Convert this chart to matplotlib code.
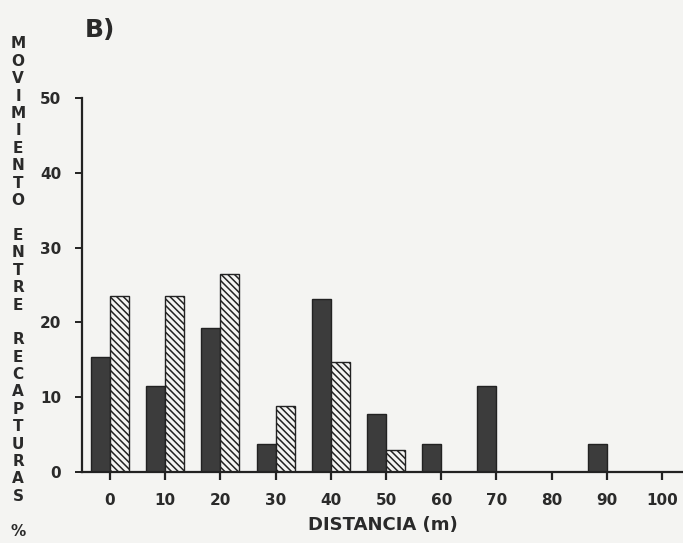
import numpy as np
import matplotlib
matplotlib.use("Agg")
import matplotlib.pyplot as plt

# distance classes (m) and % of movements between recaptures
distancias = [0, 10, 20, 30, 40, 50, 60, 70, 80, 90, 100]
serie_oscura = [15.4, 11.5, 19.2, 3.8, 23.1, 7.7, 3.8, 11.5, 0, 3.8, 0]
serie_rayada = [23.5, 23.5, 26.5, 8.8, 14.7, 2.9, 0, 0, 0, 0, 0]
yticks = [0, 10, 20, 30, 40, 50]
ylabel_txt = "MOVIMIENTO ENTRE RECAPTURAS %"

txt_color = "#2a2a2a"
bg = "#f4f4f2"

plt.rcParams["font.family"] = "DejaVu Sans"
plt.rcParams["hatch.linewidth"] = 1.1
plt.rcParams["hatch.color"] = "#2a2a2a"

fig = plt.figure(figsize=(6.83, 5.43), dpi=100, facecolor=bg)
ax = fig.add_axes([82 / 683, 71 / 543, 601 / 683, 374 / 543], facecolor=bg)

x = np.array(distancias, dtype=float)
w = 3.45
ax.bar(x - w / 2, serie_oscura, width=w, color="#3c3c3c", edgecolor="#222222", linewidth=1.0)
ax.bar(x + w / 2, serie_rayada, width=w, color=bg, edgecolor="#222222", linewidth=1.0,
       hatch="\\\\\\\\\\")

ax.set_xlim(-5.07, 103.8)
ax.set_ylim(0, 50)
ax.set_xticks(distancias)
ax.set_yticks(yticks)
ax.set_xticklabels([str(d) for d in distancias], fontsize=11, fontweight="heavy", color=txt_color)
ax.set_yticklabels([str(t) for t in yticks], fontsize=11, fontweight="heavy", color=txt_color)
ax.tick_params(axis="x", length=6, width=1.6, pad=9, color="#222222")
ax.tick_params(axis="y", length=5, width=1.4, pad=10, color="#222222")

for s in ["top", "right"]:
    ax.spines[s].set_visible(False)
ax.spines["left"].set_linewidth(1.6)
ax.spines["bottom"].set_linewidth(1.6)
ax.spines["left"].set_color("#222222")
ax.spines["bottom"].set_color("#222222")

ax.set_xlabel("DISTANCIA (m)", fontsize=13, fontweight="heavy", color=txt_color, labelpad=6)

# stacked vertical y label, one letter per line
y0 = 44
step = 17.4
for i, ch in enumerate(ylabel_txt):
    if ch == " ":
        continue
    fig.text(18 / 683, 1 - (y0 + i * step) / 543, ch, ha="center", va="center",
             fontsize=11, fontweight="heavy", color=txt_color)

fig.text(100 / 683, 1 - 30 / 543, "B)", ha="center", va="center",
         fontsize=18, fontweight="heavy", color=txt_color)

fig.savefig("out.png", dpi=100, facecolor=bg)
